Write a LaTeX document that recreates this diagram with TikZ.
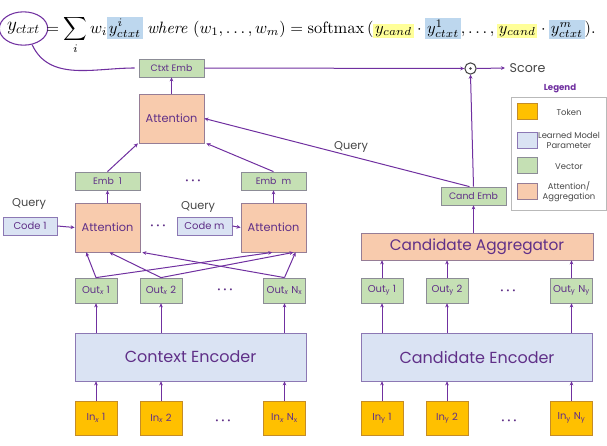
\documentclass[tikz,border=0pt]{standalone}
\usepackage[no-math]{fontspec}
\setmainfont{Poppins}
\usetikzlibrary{arrows.meta,shapes.geometric}
\definecolor{lnpurple}{RGB}{112,48,160}
\definecolor{txpurple}{RGB}{96,48,136}
\definecolor{txgrey}{RGB}{70,70,70}
\definecolor{tokfill}{RGB}{255,192,0}
\definecolor{tokdraw}{RGB}{196,140,40}
\definecolor{parfill}{RGB}{218,227,243}
\definecolor{pardraw}{RGB}{140,120,180}
\definecolor{vecfill}{RGB}{197,224,180}
\definecolor{vecdraw}{RGB}{140,140,150}
\definecolor{attfill}{RGB}{248,203,173}
\definecolor{attdraw}{RGB}{150,125,150}
\definecolor{hlblue}{RGB}{189,215,238}
\definecolor{hlyellow}{RGB}{255,255,153}
\definecolor{legdraw}{RGB}{185,185,185}
\tikzset{
	box/.style={draw, line width=0.6pt, inner sep=0pt, align=center, text=txpurple},
	tokbox/.style={box, fill=tokfill, draw=tokdraw, minimum width=31.5pt, minimum height=25.5pt, font=\fontsize{7.5}{8}\selectfont},
	parbox/.style={box, fill=parfill, draw=pardraw},
	vecbox/.style={box, fill=vecfill, draw=vecdraw, font=\fontsize{7}{8}\selectfont},
	attbox/.style={box, fill=attfill, draw=attdraw},
	outbox/.style={vecbox, minimum width=31.5pt, minimum height=18.75pt, font=\fontsize{7.5}{8}\selectfont},
	embbox/.style={vecbox, minimum width=48.75pt, minimum height=13.5pt},
	codebox/.style={parbox, minimum height=13.5pt, font=\fontsize{7.5}{8}\selectfont},
	smallatt/.style={attbox, minimum width=48.75pt, minimum height=36.75pt, font=\fontsize{8.5}{9}\selectfont},
	encbox/.style={parbox, minimum width=173.25pt, minimum height=36pt, font=\fontsize{12}{14}\selectfont},
	swatch/.style={box, minimum width=15pt, minimum height=12pt},
	legtext/.style={text=txgrey, align=center, font=\fontsize{6.3}{7.5}\selectfont},
	label/.style={text=txgrey, font=\fontsize{8.5}{9}\selectfont},
	dotsnode/.style={text=txpurple, font=\fontsize{6}{6}\selectfont},
	link/.style={draw=lnpurple, line width=0.75pt, -{Stealth[length=3pt,width=2.8pt]}},
}
\newcommand{\threedots}{\textbullet\hspace{2pt}\textbullet\hspace{2pt}\textbullet}

\begin{document}
\begin{tikzpicture}[x=0.75pt,y=-0.75pt]
		%%%%% START %%%%%
		\useasboundingbox (0,0) rectangle (607,446);
		
		% formula
		\node[ellipse, draw=lnpurple, line width=0.8pt, inner sep=0.5pt, minimum width=32pt, minimum height=25pt] (yc) at (23.5,28.5) {\fontsize{14}{16}\selectfont$y_{ctxt}$};
		\node[anchor=base west, inner sep=0pt] (formula) at (46,33) {\resizebox{412pt}{!}{\setlength{\fboxsep}{1pt}$\displaystyle = \sum_i w_i\colorbox{hlblue}{$\displaystyle y^{i}_{ctxt}$}\ \mathit{where}\ (w_1,\ldots,w_m) = \mathrm{softmax}\,(\colorbox{hlyellow}{$y_{cand}$}\cdot\colorbox{hlblue}{$y^{1}_{ctxt}$},\ldots,\colorbox{hlyellow}{$y_{cand}$}\cdot\colorbox{hlblue}{$y^{m}_{ctxt}$}).$}};
		
		% context side
		\node[embbox] (ctxtemb) at (171.5,68) {Ctxt Emb};
		\node[smallatt] (atttop) at (171.5,118.5) {Attention};
		\node[embbox] (emb1) at (107.5,181) {Emb\ \ 1};
		\node[embbox] (embm) at (273.5,181) {Emb\ \ m};
		\node[dotsnode] (embdots) at (193,182) {\threedots};
		
		\node[codebox, minimum width=40.5pt] (code1) at (30,226) {Code 1};
		\node[codebox, minimum width=41.25pt] (codem) at (204.5,226) {Code m};
		\node[label] (q1) at (29,204) {Query};
		\node[label] (qm) at (198,207) {Query};
		\node[smallatt] (att1) at (107.5,227.5) {Attention};
		\node[smallatt] (attm) at (273.5,227.5) {Attention};
		\node[dotsnode] (attdots) at (158,227) {\threedots};
		
		\node[outbox] (outx1) at (96,290.5) {Out\textsubscript{\itshape x} 1};
		\node[outbox] (outx2) at (161,290.5) {Out\textsubscript{\itshape x} 2};
		\node[outbox] (outxn) at (284.5,290.5) {Out\textsubscript{\itshape x} N\textsubscript{x}};
		\node[dotsnode] (outxdots) at (225,291) {\threedots};
		
		\node[encbox] (ctxenc) at (190.5,357) {Context Encoder};
		
		\node[tokbox] (inx1) at (96,418) {In\textsubscript{\itshape x} 1};
		\node[tokbox] (inx2) at (161,418) {In\textsubscript{\itshape x} 2};
		\node[tokbox] (inxn) at (284.5,418) {In\textsubscript{\itshape x} N\textsubscript{x}};
		\node[dotsnode] (inxdots) at (223,422) {\threedots};
		
		% candidate side
		\node[circle, draw=txgrey, line width=0.8pt, minimum size=8.5pt, inner sep=0pt] (prod) at (470.5,68.5) {};
		\fill[txgrey] (prod.center) circle (1.1pt);
		\node[label, anchor=west, font=\fontsize{9.5}{10}\selectfont] (score) at (505,68) {Score};
		\node[embbox] (candemb) at (473.5,196) {Cand Emb};
		\node[label] (qc) at (351,147) {Query};
		\node[attbox, minimum width=174pt, minimum height=20.25pt, font=\fontsize{11.5}{13}\selectfont] (candagg) at (477,246.5) {Candidate Aggregator};
		
		\node[outbox] (outy1) at (382,290.5) {Out\textsubscript{y} 1};
		\node[outbox] (outy2) at (447,290.5) {Out\textsubscript{y} 2};
		\node[outbox] (outyn) at (571.5,290.5) {Out\textsubscript{y} N\textsubscript{y}};
		\node[dotsnode] (outydots) at (508,292) {\threedots};
		
		\node[encbox] (candenc) at (477,357) {Candidate Encoder};
		
		\node[tokbox] (iny1) at (382,418) {In\textsubscript{y} 1};
		\node[tokbox] (iny2) at (447,418) {In\textsubscript{y} 2};
		\node[tokbox] (inyn) at (571.5,418) {In\textsubscript{y} N\textsubscript{y}};
		\node[dotsnode] (inydots) at (509,422) {\threedots};
		
		% legend
		\node[text=lnpurple, font=\fontsize{6.5}{7}\selectfont\bfseries] (legtitle) at (560,88) {Legend};
		\draw[draw=legdraw, line width=0.7pt] (511,97) rectangle (606,210);
		\node[swatch, fill=tokfill, draw=tokdraw] (sw1) at (527,111) {};
		\node[swatch, fill=parfill, draw=pardraw] (sw2) at (527,140) {};
		\node[swatch, fill=vecfill, draw=vecdraw] (sw3) at (527,165.5) {};
		\node[swatch, fill=attfill, draw=attdraw] (sw4) at (527,191) {};
		\node[legtext] (lt1) at (569,112) {Token};
		\node[legtext] (lt2) at (569,140) {Learned Model\\Parameter};
		\node[legtext] (lt3) at (569,167) {Vector};
		\node[legtext] (lt4) at (569,192) {Attention/\\Aggregation};
		
		% connectors, context side
		\draw[draw=lnpurple, line width=0.8pt] (yc.-62) to[out=-65, in=180] ([xshift=-3pt]ctxtemb.west);
		\draw[link] (atttop.north) -- (ctxtemb.south);
		\draw[link] (emb1.north) -- ([xshift=-0.5pt]atttop.south west);
		\draw[link] (embm.north) -- ([xshift=1.5pt]atttop.south east);
		\draw[link] (att1.north) -- (emb1.south);
		\draw[link] (attm.north) -- (embm.south);
		\draw[link] (code1.east) -- (att1.west);
		\draw[link] (codem.east) -- (attm.west);
		
		\draw[link] (outx1.north) -- ([xshift=-16pt]att1.south);
		\draw[link] (outx1.north) -- ([xshift=-1pt]attm.south);
		\draw[link] (outx2.north) -- ([xshift=1.5pt]att1.south);
		\draw[link] (outx2.north) -- ([xshift=15pt]attm.south);
		\draw[link] (outxn.north) -- ([xshift=1.5pt]att1.south east);
		\draw[link] (outxn.north) -- ([xshift=16.5pt]attm.south);
		
		\draw[link] (ctxenc.north -| outx1) -- (outx1.south);
		\draw[link] (ctxenc.north -| outx2) -- (outx2.south);
		\draw[link] (ctxenc.north -| outxn) -- (outxn.south);
		\draw[link] (inx1.north) -- (inx1.north |- ctxenc.south);
		\draw[link] (inx2.north) -- (inx2.north |- ctxenc.south);
		\draw[link] (inxn.north) -- (inxn.north |- ctxenc.south);
		
		% connectors, candidate side
		\draw[link] (ctxtemb.east) -- (prod.west);
		\draw[link] (prod.east) -- (score.west);
		\draw[link] (candemb.north) -- (prod.south);
		\draw[link] ([xshift=-3pt]candemb.north) -- (atttop.east);
		\draw[link] (candagg.north -| candemb) -- (candemb.south);
		
		\draw[link] (outy1.north) -- (outy1.north |- candagg.south);
		\draw[link] (outy2.north) -- (outy2.north |- candagg.south);
		\draw[link] (outyn.north) -- (outyn.north |- candagg.south);
		\draw[link] (candenc.north -| outy1) -- (outy1.south);
		\draw[link] (candenc.north -| outy2) -- (outy2.south);
		\draw[link] (candenc.north -| outyn) -- (outyn.south);
		\draw[link] (iny1.north) -- (iny1.north |- candenc.south);
		\draw[link] (iny2.north) -- (iny2.north |- candenc.south);
		\draw[link] (inyn.north) -- (inyn.north |- candenc.south);
		
		%%%%% END %%%%%
	\end{tikzpicture}
\end{document}
